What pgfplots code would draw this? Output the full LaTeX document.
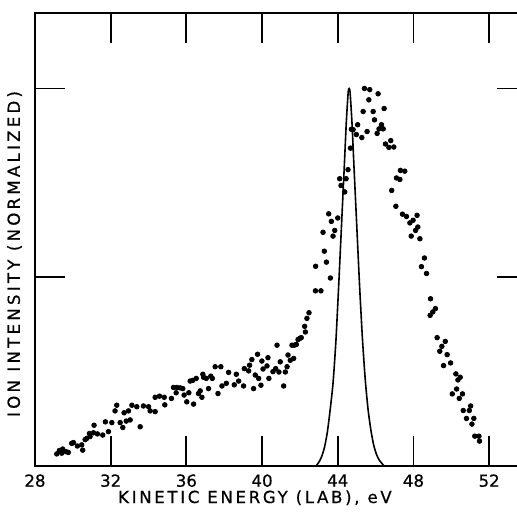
\documentclass[border=0pt]{standalone}
\usepackage{fontspec}
\setmainfont{DejaVu Sans}[FakeBold=0.6]
\usepackage{pgfplots}
\pgfplotsset{compat=1.18}
\usepackage{pgfplotstable}

\pgfplotstableread{
x y
29.15 0.032
29.29 0.041
29.41 0.034
29.46 0.045
29.64 0.038
29.76 0.036
29.94 0.060
30.03 0.062
30.24 0.053
30.47 0.056
30.52 0.042
30.65 0.070
30.73 0.073
30.875 0.086
30.91 0.078
31.09 0.088
31.12 0.108
31.30 0.085
31.58 0.082
31.72 0.117
31.88 0.091
32.06 0.115
32.23 0.146
32.32 0.161
32.50 0.115
32.64 0.102
32.71 0.141
32.82 0.119
32.94 0.146
33.03 0.122
33.12 0.161
33.38 0.157
33.56 0.104
33.73 0.159
34.00 0.157
34.085 0.146
34.35 0.144
34.35 0.182
34.58 0.185
34.83 0.182
34.86 0.162
35.21 0.179
35.32 0.208
35.46 0.194
35.50 0.208
35.67 0.207
35.81 0.205
35.88 0.188
36.02 0.170
36.13 0.194
36.20 0.225
36.34 0.227
36.38 0.164
36.52 0.232
36.64 0.192
36.73 0.199
36.87 0.243
36.91 0.235
36.82 0.182
37.05 0.232
37.17 0.205
37.29 0.238
37.37 0.232
37.52 0.263
37.67 0.192
37.82 0.263
37.88 0.212
38.11 0.219
38.23 0.248
38.53 0.215
38.64 0.243
38.76 0.225
39.06 0.258
39.02 0.212
39.29 0.252
39.34 0.267
39.46 0.282
39.55 0.205
39.64 0.241
39.76 0.296
39.82 0.232
39.94 0.214
39.99 0.278
40.05 0.257
40.26 0.265
40.31 0.287
40.36 0.232
40.575 0.250
40.72 0.258
40.79 0.320
40.89 0.249
40.96 0.276
41.14 0.212
41.23 0.249
41.32 0.263
41.37 0.294
41.49 0.280
41.58 0.320
41.67 0.285
41.70 0.320
41.81 0.322
41.90 0.335
41.99 0.338
42.07 0.340
42.29 0.355
42.25 0.370
42.37 0.391
42.48 0.406
42.82 0.464
42.83 0.529
43.11 0.464
43.22 0.619
43.29 0.569
43.40 0.540
43.61 0.498
43.52 0.668
43.66 0.648
43.75 0.609
43.84 0.624
44.00 0.657
44.10 0.761
44.17 0.743
44.37 0.726
44.44 0.761
44.54 0.785
44.67 0.842
44.72 0.892
44.81 0.891
44.98 0.878
45.05 0.904
45.27 0.870
45.34 0.939
45.41 1.000
45.55 0.886
45.64 0.970
45.69 0.997
45.87 0.939
45.94 0.917
46.08 0.881
46.13 0.986
46.18 0.893
46.31 0.904
46.40 0.893
46.45 0.947
46.52 0.853
46.70 0.844
46.80 0.862
46.96 0.845
46.85 0.730
47.07 0.688
47.10 0.763
47.28 0.759
47.31 0.783
47.54 0.781
47.42 0.667
47.63 0.661
47.81 0.644
47.88 0.609
47.98 0.651
48.11 0.624
48.19 0.664
48.23 0.633
48.34 0.602
48.42 0.528
48.58 0.551
48.69 0.510
48.90 0.443
48.88 0.399
49.02 0.408
49.16 0.417
49.25 0.340
49.39 0.304
49.50 0.317
49.68 0.330
49.78 0.295
49.59 0.266
49.96 0.273
50.24 0.244
50.35 0.228
50.47 0.235
50.28 0.204
50.05 0.191
50.42 0.179
50.59 0.191
50.63 0.147
50.80 0.126
50.95 0.147
51.02 0.159
51.09 0.111
51.19 0.126
51.24 0.079
51.46 0.079
51.49 0.066
}\scatterdata

\pgfplotstableread{
x y
42.85 0.0
43.00 0.010
43.15 0.025
43.30 0.050
43.45 0.090
43.60 0.150
43.75 0.220
43.90 0.330
44.05 0.480
44.20 0.640
44.35 0.800
44.45 0.910
44.55 0.990
44.60 1.000
44.65 0.990
44.75 0.910
44.85 0.800
45.00 0.640
45.15 0.480
45.30 0.340
45.45 0.230
45.60 0.150
45.75 0.095
45.90 0.055
46.05 0.030
46.20 0.015
46.45 0.0
}\peakdata

\begin{document}
\begin{tikzpicture}
\begin{axis}[
  scale only axis,
  width=246pt, height=226.5pt,
  xmin=28, xmax=54, ymin=0, ymax=1.2,
  axis line style={line width=0.9pt},
  xtick={28,32,...,52},
  ytick={0.5,1},
  yticklabels={},
  tick style={line width=0.9pt, black},
  major tick length=15pt,
  tick align=inside,
  xtick pos=both, ytick pos=both,
  xticklabel pos=lower,
  /pgf/number format/assume math mode=true,
  ticklabel style={font=\fontsize{8.3}{10}\selectfont},
  xticklabel style={inner sep=0pt, anchor=north, yshift=-4pt},
  xlabel={\addfontfeature{LetterSpace=16}KINETIC ENERGY (LAB), eV},
  ylabel={\addfontfeature{LetterSpace=19.5}ION INTENSITY (NORMALIZED)},
  label style={font=\fontsize{8.3}{10}\selectfont},
  xlabel style={at={(axis description cs:0.447,-0.053)}, anchor=north, inner sep=0pt},
  ylabel style={at={(axis description cs:-0.0256,0.468)}, anchor=south, inner sep=0pt},
  clip=true,
]
\addplot[only marks, mark=*, mark size=1.15pt, black] table[x=x,y=y] {\scatterdata};
\addplot[black, line width=0.8pt, smooth, tension=0.4] table[x=x,y=y] {\peakdata};
\end{axis}
\pgfresetboundingbox
\path[use as bounding box] ([xshift=-17.5pt,yshift=-23.5pt]current axis.south west) rectangle ([xshift=-5pt,yshift=6.5pt]current axis.north east);
\end{tikzpicture}
\end{document}
